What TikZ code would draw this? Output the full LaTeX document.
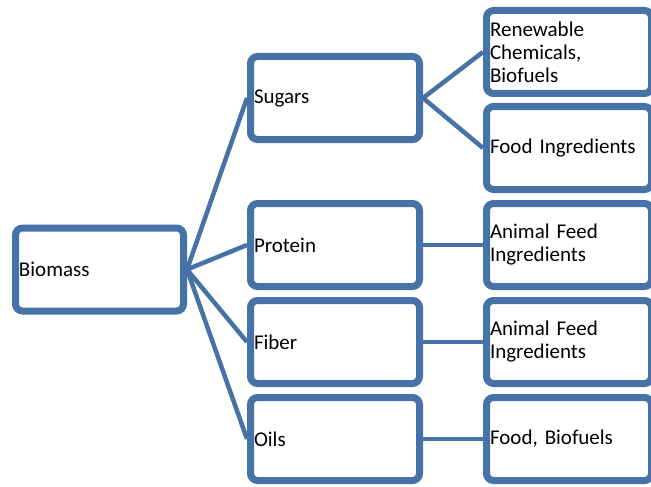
\documentclass[tikz,border=0pt]{standalone}
\usepackage{fontspec}
\setmainfont{Carlito}
\usetikzlibrary{positioning,shadows}
\definecolor{boxblue}{HTML}{4672A8}

\begin{document}
\begin{tikzpicture}[x=1pt, y=-1pt,
    box/.style={draw=boxblue, line width=7pt, rounded corners=7pt, fill=white,
        inner xsep=3.5pt, inner ysep=0pt, align=left, minimum height=83pt,
        font=\fontsize{21}{23}\selectfont,
        drop shadow={opacity=0.25, shadow xshift=1.5pt, shadow yshift=-2.5pt}},
    midbox/.style={box, text width=162pt},
    outbox/.style={box, text width=158pt},
    link/.style={draw=boxblue, line width=4.5pt}]

\useasboundingbox (0,0) rectangle (651,487);
\clip (0,0) rectangle (651,487);

% ---- Source ----
            \node[box, text width=161pt] (biomass) at (99.5,269.5) {Biomass};

% ---- Fractions ----
            \node[midbox] (sugars)  at (335,98)  {Sugars};
            \node[midbox] (protein) at (335,245) {Protein};
            \node[midbox] (fiber)   at (335,342) {Fiber};
            \node[midbox] (oils)    at (335,439) {Oils};

% ---- Products ----
            \node[outbox] (chem)    at (569,52)  {Renewable\\Chemicals,\\Biofuels};
            \node[outbox] (food)    at (569,148) {Food Ingredients};
            \node[outbox] (feedA)   at (569,245) {Animal Feed\\Ingredients};
            \node[outbox] (feedB)   at (569,342) {Animal Feed\\Ingredients};
            \node[outbox] (foodfuel) at (569,439) {Food, Biofuels};

% ---- Connectors ----
            \foreach \m in {sugars,protein,fiber,oils} {
                \draw[link] (biomass.east) -- (\m.west);
            }
            \draw[link] (sugars.east) -- (chem.west);
            \draw[link] (sugars.east) -- (food.west);
            \draw[link] (protein.east) -- (feedA.west);
            \draw[link] (fiber.east) -- (feedB.west);
            \draw[link] (oils.east) -- (foodfuel.west);

\end{tikzpicture}
\end{document}
